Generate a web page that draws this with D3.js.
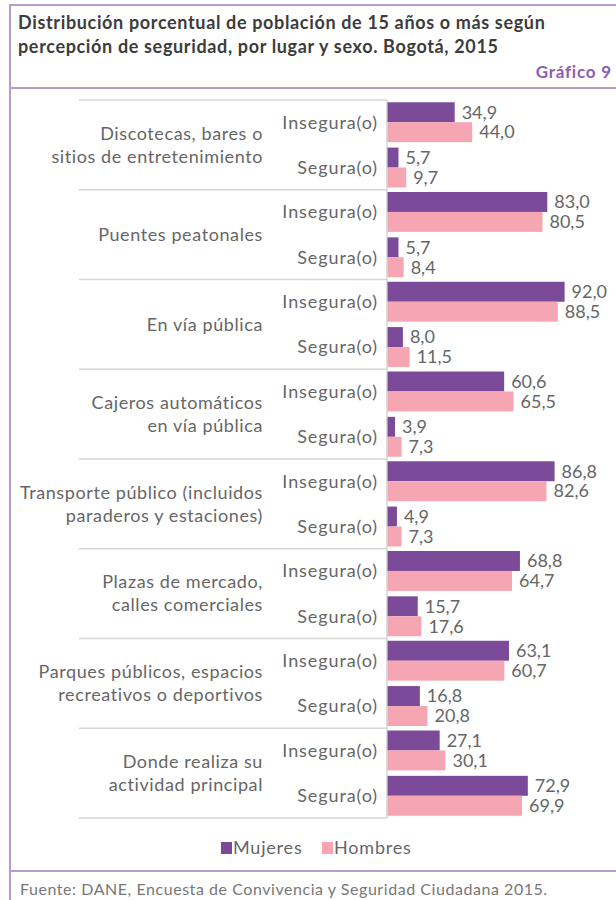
<!DOCTYPE html>
<html>
<head>
<meta charset="utf-8">
<style>
  body { margin: 0; background: #fff; }
  svg { display: block; font-family: Lato, "Open Sans", sans-serif; }
</style>
</head>
<body>
<svg id="chart" width="616" height="900"></svg>

<script src="https://d3js.org/d3.v7.min.js"></script>
<script>
// places (each one split into lines as in the picture)
var lugares = [
  ["Discotecas, bares o", "sitios de entretenimiento"],
  ["Puentes peatonales"],
  ["En vía pública"],
  ["Cajeros automáticos", "en vía pública"],
  ["Transporte público (incluidos", "paraderos y estaciones)"],
  ["Plazas de mercado,", "calles comerciales"],
  ["Parques públicos, espacios", "recreativos o deportivos"],
  ["Donde realiza su", "actividad principal"]
];
var percepcion = ["Insegura(o)", "Segura(o)"];
var sexos = ["Mujeres", "Hombres"];

var mujeresInsegura = [34.9, 83.0, 92.0, 60.6, 86.8, 68.8, 63.1, 27.1];
var hombresInsegura = [44.0, 80.5, 88.5, 65.5, 82.6, 64.7, 60.7, 30.1];
var mujeresSegura   = [5.7, 5.7, 8.0, 3.9, 4.9, 15.7, 16.8, 72.9];
var hombresSegura   = [9.7, 8.4, 11.5, 7.3, 7.3, 17.6, 20.8, 69.9];

var colores = ["#7b4a99", "#f5a6b2"];

var rows = [];
lugares.forEach(function (l, i) {
  rows.push({ lugar: i, per: "Insegura(o)", sexo: "Mujeres", v: mujeresInsegura[i] });
  rows.push({ lugar: i, per: "Insegura(o)", sexo: "Hombres", v: hombresInsegura[i] });
  rows.push({ lugar: i, per: "Segura(o)", sexo: "Mujeres", v: mujeresSegura[i] });
  rows.push({ lugar: i, per: "Segura(o)", sexo: "Hombres", v: hombresSegura[i] });
});

var svg = d3.select("#chart");
var border = "#b99bd0";

// frame
svg.append("rect").attr("x", 10).attr("y", 5).attr("width", 620).attr("height", 920)
  .attr("fill", "none").attr("stroke", border).attr("stroke-width", 2);
svg.append("line").attr("x1", 10).attr("x2", 616).attr("y1", 88).attr("y2", 88)
  .attr("stroke", border).attr("stroke-width", 2);
svg.append("line").attr("x1", 10).attr("x2", 616).attr("y1", 871).attr("y2", 871)
  .attr("stroke", border).attr("stroke-width", 2);

// title
var title = svg.append("text").attr("fill", "#3c3c3c").attr("font-size", 18)
  .attr("font-weight", "bold").attr("letter-spacing", 0.65);
title.append("tspan").attr("x", 18).attr("y", 29).text("Distribución porcentual de población de 15 años o más según");
title.append("tspan").attr("x", 18).attr("y", 53).text("percepción de seguridad, por lugar y sexo. Bogotá, 2015");
svg.append("text").attr("x", 612).attr("y", 78).attr("text-anchor", "end")
  .attr("fill", "#8e5db3").attr("font-size", 17).attr("font-weight", "bold")
  .attr("letter-spacing", 0.8).text("Gráfico 9");

// scales
var x = d3.scaleLinear().domain([0, 100]).range([387.5, 580]);
var y0 = d3.scaleBand().domain(d3.range(lugares.length)).range([100, 818]);
var y1 = d3.scaleBand().domain(percepcion).range([0, y0.bandwidth()]).paddingInner(0.12).paddingOuter(0.05);
var y2 = d3.scaleBand().domain(sexos).range([0, y1.bandwidth()]);

// separators and axis line
var grid = "#d6d6d6";
svg.append("g").selectAll("line").data(d3.range(lugares.length + 1)).join("line")
  .attr("x1", 79).attr("x2", 387)
  .attr("y1", function (d) { return d < lugares.length ? y0(d) : y0.range()[1]; })
  .attr("y2", function (d) { return d < lugares.length ? y0(d) : y0.range()[1]; })
  .attr("stroke", grid).attr("stroke-width", 1.5);
svg.append("line").attr("x1", 387).attr("x2", 387).attr("y1", y0.range()[0]).attr("y2", y0.range()[1])
  .attr("stroke", grid).attr("stroke-width", 1.5);

// category labels
var cat = svg.append("g").selectAll("text").data(lugares).join("text")
  .attr("text-anchor", "end").attr("fill", "#666").attr("font-size", 18).attr("letter-spacing", 0.6);
cat.each(function (lines, i) {
  var cy = y0(i) + y0.bandwidth() / 2;
  var lh = 23;
  d3.select(this).selectAll("tspan").data(lines).join("tspan")
    .attr("x", 263)
    .attr("y", function (d, k) { return cy + (k - (lines.length - 1) / 2) * lh; })
    .attr("dy", "0.35em")
    .text(function (d) { return d; });
});

// perception labels
var sub = [];
lugares.forEach(function (l, i) { percepcion.forEach(function (p) { sub.push({ lugar: i, per: p }); }); });
svg.append("g").selectAll("text").data(sub).join("text")
  .attr("x", 378)
  .attr("y", function (d) { return y0(d.lugar) + y1(d.per) + y1.bandwidth() / 2; })
  .attr("dy", "0.35em").attr("text-anchor", "end").attr("fill", "#666").attr("font-size", 18)
  .attr("letter-spacing", 0.9)
  .text(function (d) { return d.per; });

// bars
var fmt = function (v) { return d3.format(".1f")(v).replace(".", ","); };
svg.append("g").selectAll("rect").data(rows).join("rect")
  .attr("x", x(0))
  .attr("y", function (d) { return y0(d.lugar) + y1(d.per) + y2(d.sexo); })
  .attr("width", function (d) { return x(d.v) - x(0); })
  .attr("height", y2.bandwidth())
  .attr("fill", function (d) { return colores[sexos.indexOf(d.sexo)]; });

svg.append("g").selectAll("text").data(rows).join("text")
  .attr("x", function (d) { return x(d.v) + 7; })
  .attr("y", function (d) { return y0(d.lugar) + y1(d.per) + y2(d.sexo) + y2.bandwidth() / 2; })
  .attr("dy", "0.35em").attr("fill", "#666").attr("font-size", 18)
  .text(function (d) { return fmt(d.v); });

// legend
var legX = [221, 322];
var leg = svg.append("g").selectAll("g").data(sexos).join("g")
  .attr("transform", function (d, i) { return "translate(" + legX[i] + ",848)"; });
leg.append("rect").attr("x", 0).attr("y", -6).attr("width", 11).attr("height", 12)
  .attr("fill", function (d, i) { return colores[i]; });
leg.append("text").attr("x", 12).attr("dy", "0.35em").attr("fill", "#666").attr("font-size", 18)
  .attr("letter-spacing", 0.8)
  .text(function (d) { return d; });

// footer
svg.append("text").attr("x", 20).attr("y", 889).attr("dy", "0.35em")
  .attr("fill", "#777").attr("font-size", 16).attr("letter-spacing", 0.55)
  .text("Fuente: DANE, Encuesta de Convivencia y Seguridad Ciudadana 2015.");
</script>
</body>
</html>
